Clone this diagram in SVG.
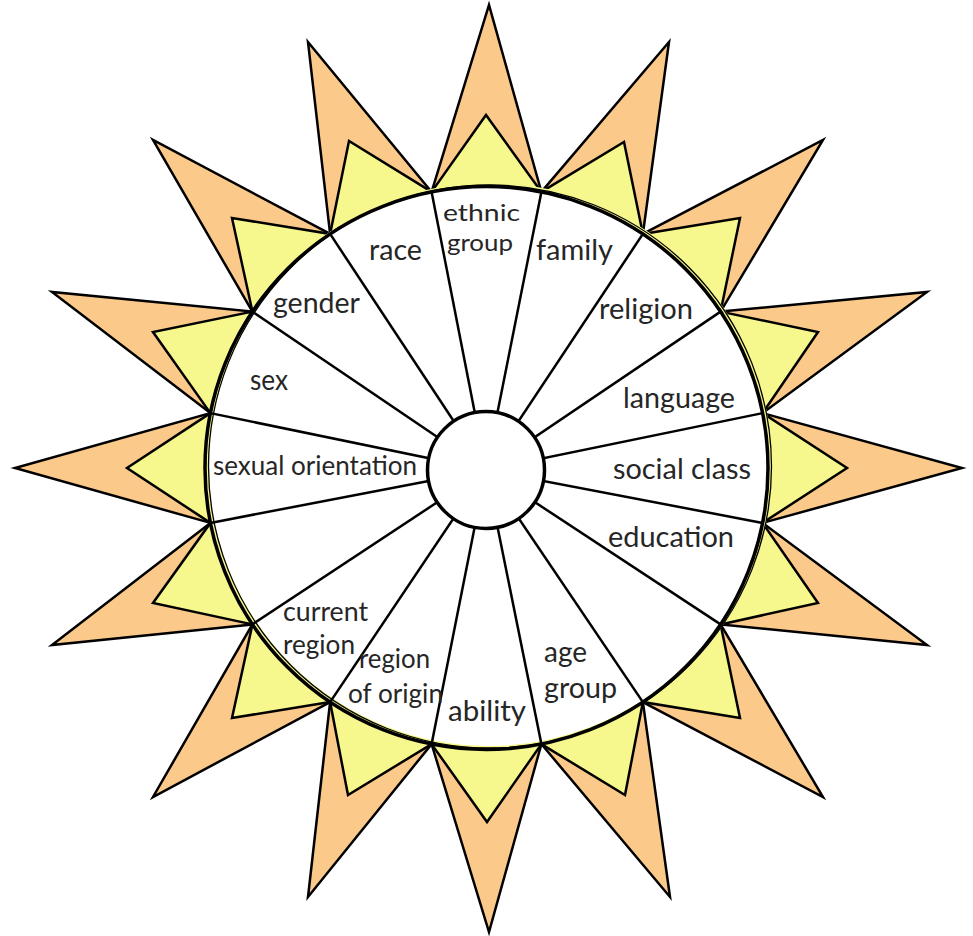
<svg xmlns="http://www.w3.org/2000/svg" width="973" height="936" viewBox="0 0 973 936">
<style>
.ray{fill:#FBCA8B;stroke:#000;stroke-width:2.5;stroke-linejoin:miter}
.yel{fill:#F6F78C;stroke:#000;stroke-width:2.5;stroke-linejoin:miter}
.spoke{stroke:#000;stroke-width:2.5;fill:none}
.lbl{font-family:Lato,"Liberation Sans",sans-serif;font-size:28px;fill:#262626}
.sm{font-size:26px}
.xs{font-size:24px}
</style>
<rect width="973" height="936" fill="#fff"/>
<g id="rays">
<polygon class="ray" points="431.6,191.9 489,5 541.4,191.9"/>
<polygon class="ray" points="541.4,191.9 669,42 642.9,233.9"/>
<polygon class="ray" points="642.9,233.9 823,140 720.6,311.6"/>
<polygon class="ray" points="720.6,311.6 927,292 762.6,413.1"/>
<polygon class="ray" points="762.6,413.1 962,468 762.6,522.9"/>
<polygon class="ray" points="762.6,522.9 927,645 720.6,624.4"/>
<polygon class="ray" points="720.6,624.4 823,797 642.9,702.1"/>
<polygon class="ray" points="642.9,702.1 670,897 541.4,744.1"/>
<polygon class="ray" points="541.4,744.1 489,932 431.6,744.1"/>
<polygon class="ray" points="431.6,744.1 308,897 330.1,702.1"/>
<polygon class="ray" points="330.1,702.1 153,797 252.4,624.4"/>
<polygon class="ray" points="252.4,624.4 52,645 210.4,522.9"/>
<polygon class="ray" points="210.4,522.9 15,468 210.4,413.1"/>
<polygon class="ray" points="210.4,413.1 52,292 252.4,311.6"/>
<polygon class="ray" points="252.4,311.6 153,140 330.1,233.9"/>
<polygon class="ray" points="330.1,233.9 308,42 431.6,191.9"/>
</g>
<g id="inner-rays">
<polygon class="yel" points="431.6,191.9 486,115 541.4,191.9"/>
<polygon class="yel" points="541.4,191.9 624,142 642.9,233.9"/>
<polygon class="yel" points="642.9,233.9 740,218 720.6,311.6"/>
<polygon class="yel" points="720.6,311.6 818,332 762.6,413.1"/>
<polygon class="yel" points="762.6,413.1 847,468 762.6,522.9"/>
<polygon class="yel" points="762.6,522.9 818,603 720.6,624.4"/>
<polygon class="yel" points="720.6,624.4 740,718 642.9,702.1"/>
<polygon class="yel" points="642.9,702.1 625,795 541.4,744.1"/>
<polygon class="yel" points="541.4,744.1 487,822 431.6,744.1"/>
<polygon class="yel" points="431.6,744.1 348,795 330.1,702.1"/>
<polygon class="yel" points="330.1,702.1 232,718 252.4,624.4"/>
<polygon class="yel" points="252.4,624.4 153,603 210.4,522.9"/>
<polygon class="yel" points="210.4,522.9 127,468 210.4,413.1"/>
<polygon class="yel" points="210.4,413.1 153,332 252.4,311.6"/>
<polygon class="yel" points="252.4,311.6 232,218 330.1,233.9"/>
<polygon class="yel" points="330.1,233.9 349,141 431.6,191.9"/>
</g>
<g id="outer-circle">
<circle cx="486.5" cy="468" r="281.5" fill="#fff" stroke="none"/>
<circle cx="489" cy="466" r="281.5" fill="none" stroke="#F6F78C" stroke-width="3"/>
<circle cx="490" cy="466.5" r="281.5" fill="none" stroke="#000" stroke-width="1.3"/>
<circle cx="486.5" cy="468" r="281.5" fill="none" stroke="#000" stroke-width="3.5"/>
</g>
<g id="connectors">
<line class="spoke" x1="541.4" y1="191.9" x2="486" y2="470"/>
<line class="spoke" x1="642.9" y1="233.9" x2="486" y2="470"/>
<line class="spoke" x1="720.6" y1="311.6" x2="486" y2="470"/>
<line class="spoke" x1="762.6" y1="413.1" x2="486" y2="470"/>
<line class="spoke" x1="762.6" y1="522.9" x2="486" y2="470"/>
<line class="spoke" x1="720.6" y1="624.4" x2="486" y2="470"/>
<line class="spoke" x1="642.9" y1="702.1" x2="486" y2="470"/>
<line class="spoke" x1="541.4" y1="744.1" x2="486" y2="470"/>
<line class="spoke" x1="431.6" y1="744.1" x2="486" y2="470"/>
<line class="spoke" x1="330.1" y1="702.1" x2="486" y2="470"/>
<line class="spoke" x1="252.4" y1="624.4" x2="486" y2="470"/>
<line class="spoke" x1="210.4" y1="522.9" x2="486" y2="470"/>
<line class="spoke" x1="210.4" y1="413.1" x2="486" y2="470"/>
<line class="spoke" x1="252.4" y1="311.6" x2="486" y2="470"/>
<line class="spoke" x1="330.1" y1="233.9" x2="486" y2="470"/>
<line class="spoke" x1="431.6" y1="191.9" x2="486" y2="470"/>
</g>
<g id="center">
<circle cx="486" cy="470" r="58.5" fill="#fff" stroke="#000" stroke-width="3.5"/>
</g>
<g id="race"><text class="lbl" x="369" y="260" textLength="53" lengthAdjust="spacingAndGlyphs">race</text></g>
<g id="ethnic-group"><text class="lbl xs" x="443" y="221" textLength="77" lengthAdjust="spacingAndGlyphs">ethnic</text><text class="lbl xs" x="447" y="251" textLength="66" lengthAdjust="spacingAndGlyphs">group</text></g>
<g id="family"><text class="lbl" x="536" y="260" textLength="77" lengthAdjust="spacingAndGlyphs">family</text></g>
<g id="gender"><text class="lbl" x="273" y="313" textLength="87" lengthAdjust="spacingAndGlyphs">gender</text></g>
<g id="religion"><text class="lbl" x="599" y="319" textLength="94" lengthAdjust="spacingAndGlyphs">religion</text></g>
<g id="sex"><text class="lbl" x="250" y="390" textLength="38" lengthAdjust="spacingAndGlyphs">sex</text></g>
<g id="language"><text class="lbl" x="623" y="408" textLength="112" lengthAdjust="spacingAndGlyphs">language</text></g>
<g id="sexual-orientation"><text class="lbl sm" x="213" y="475" textLength="204" lengthAdjust="spacingAndGlyphs">sexual orientation</text></g>
<g id="social-class"><text class="lbl" x="613" y="479" textLength="138" lengthAdjust="spacingAndGlyphs">social class</text></g>
<g id="education"><text class="lbl" x="608" y="547" textLength="126" lengthAdjust="spacingAndGlyphs">education</text></g>
<g id="current-region"><text class="lbl sm" x="283" y="621" textLength="85" lengthAdjust="spacingAndGlyphs">current</text><text class="lbl sm" x="283" y="654" textLength="72" lengthAdjust="spacingAndGlyphs">region</text></g>
<g id="region-of-origin"><text class="lbl sm" x="359" y="668" textLength="71" lengthAdjust="spacingAndGlyphs">region</text><text class="lbl sm" x="348" y="703" textLength="95" lengthAdjust="spacingAndGlyphs">of origin</text></g>
<g id="ability"><text class="lbl" x="448" y="721" textLength="78" lengthAdjust="spacingAndGlyphs">ability</text></g>
<g id="age-group"><text class="lbl" x="544" y="662" textLength="43" lengthAdjust="spacingAndGlyphs">age</text><text class="lbl" x="544" y="698" textLength="73" lengthAdjust="spacingAndGlyphs">group</text></g>
</svg>
